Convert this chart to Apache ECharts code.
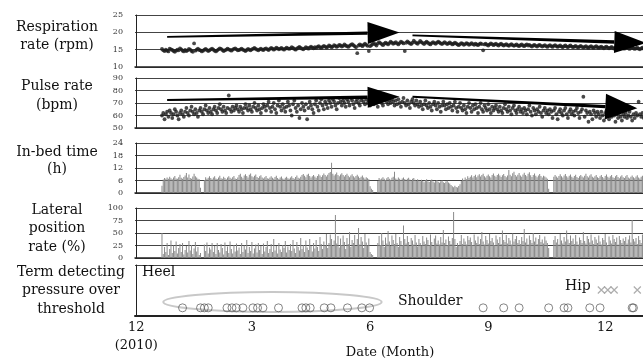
<!DOCTYPE html>
<html><head><meta charset="utf-8">
<script src="https://cdn.jsdelivr.net/npm/echarts@6/dist/echarts.min.js"></script>
<style>html,body{margin:0;padding:0;background:#fff}#c{width:643px;height:363px}</style>
</head><body><div id="c"></div>
<script>
// x values are days counted from 1 Dec 2010; daily readings start on day 20 (21 Dec 2010)
const firstDay = 20;
const respiration = [
15.2,14.8,14.6,15.0,14.7,14.5,15.3,15.1,14.9,14.6,14.4,14.7,15.0,14.8,15.4,15.1,14.7,14.5,14.9,14.6,
14.8,15.2,15.0,14.6,14.4,16.8,14.7,15.0,15.3,14.9,14.8,14.5,14.7,15.0,15.2,14.9,14.6,14.8,15.1,15.3,
15.0,14.7,14.5,14.8,15.1,15.4,15.2,14.9,14.6,14.8,15.0,15.3,15.1,14.9,14.7,15.0,15.2,15.4,15.1,14.8,
14.9,15.1,15.3,15.0,14.8,14.6,14.9,15.2,15.0,14.8,15.1,15.3,15.5,15.2,15.0,14.8,15.1,15.3,15.0,14.9,
15.2,15.4,15.1,14.9,15.2,15.5,15.3,15.0,15.2,15.6,15.4,15.1,15.3,15.5,15.2,15.0,15.3,15.6,15.4,15.2,
15.4,15.7,15.5,15.2,15.0,15.3,15.6,15.8,15.5,15.3,15.1,15.4,15.7,15.5,15.3,15.6,15.9,15.6,15.4,15.7,
15.5,15.8,16.0,15.7,15.5,15.8,16.1,15.9,15.6,15.8,16.2,16.0,15.7,15.9,16.3,16.1,15.8,16.0,16.4,16.2,
15.9,16.1,16.5,16.2,16.0,15.8,16.1,16.4,16.6,16.3,16.0,15.7,14.0,16.2,16.5,16.3,16.0,16.4,16.7,16.4,
16.1,14.6,16.0,16.3,16.6,16.9,16.5,16.2,16.8,17.2,16.9,16.6,16.3,16.7,17.0,16.8,16.5,16.9,17.3,17.0,
16.7,16.9,17.2,16.8,16.5,16.9,17.3,17.1,16.8,14.6,17.0,17.4,17.1,16.8,16.6,17.0,17.6,17.2,16.9,16.7,
17.1,17.5,17.2,16.9,16.6,17.0,17.3,17.0,16.7,16.5,16.9,17.2,16.9,16.7,17.0,17.3,17.1,16.8,16.6,16.9,
17.2,16.9,16.6,16.8,17.1,16.8,16.5,16.7,17.0,16.8,16.5,16.3,16.6,16.9,16.7,16.4,16.6,16.9,16.7,16.4,
16.6,16.9,16.6,16.4,16.7,16.5,16.3,16.6,16.8,16.6,14.8,16.5,16.7,16.4,16.2,16.5,16.8,16.6,16.3,16.5,
16.7,16.4,16.2,16.5,16.7,16.4,16.2,16.4,16.6,16.3,16.1,16.4,16.6,16.3,16.1,16.3,16.5,16.2,16.0,16.3,
16.5,16.2,16.0,16.3,16.5,16.2,16.4,16.1,15.9,16.2,16.4,16.1,15.9,16.2,16.4,16.1,15.9,16.1,16.3,16.0,
15.8,16.1,16.3,16.0,15.8,16.1,16.3,16.0,15.8,16.0,16.2,15.9,15.7,16.0,16.2,15.9,15.7,16.0,16.2,15.9,
15.7,15.9,16.1,15.8,15.6,15.9,16.1,15.8,15.6,15.8,16.0,15.7,15.5,15.8,16.0,15.7,15.5,15.8,16.0,15.7,
15.5,15.7,15.9,15.6,15.4,15.7,15.9,15.6,15.4,15.6,15.8,15.5,15.3,15.6,15.8,15.5,15.3,15.5,15.7,15.4,
15.3,15.5,15.7,15.4,15.2,15.5,15.7,15.4,15.2,15.4,15.6,15.3,15.1,15.4,15.6,15.3,15.1,15.3,15.5,15.2
];
const pulse = [
60,62,57,61,63,59,64,62,58,61,65,63,60,57,62,64,61,59,63,66,
62,60,64,67,63,61,65,62,59,64,66,63,61,65,68,64,62,66,63,61,
65,67,64,62,66,69,65,63,67,64,62,66,76,65,63,67,64,66,68,65,
63,67,65,62,66,69,66,64,68,65,63,67,70,66,64,68,65,62,66,69,
67,64,68,71,66,63,67,70,65,62,68,72,67,64,69,66,63,67,71,68,
64,60,69,72,66,63,68,58,65,70,67,64,69,57,66,71,68,65,62,69,
72,67,64,70,73,68,65,71,69,66,72,70,67,73,71,68,65,70,74,71,
68,72,70,67,73,71,68,74,72,69,66,71,73,70,68,72,74,71,69,73,
70,72,68,71,74,69,72,70,67,71,73,70,68,72,75,71,69,72,70,73,
71,68,72,69,73,70,67,71,74,70,68,72,69,66,71,73,70,68,72,69,
67,71,68,65,69,72,68,66,70,67,64,69,71,68,65,70,67,63,68,71,
68,65,69,66,70,67,64,68,71,66,63,67,70,66,64,68,65,62,67,70,
66,63,68,65,69,66,62,67,70,65,63,68,66,64,69,65,62,67,64,66,
68,65,63,67,64,62,66,69,65,63,67,64,61,66,68,64,62,65,67,63,
65,62,66,64,61,65,68,63,60,66,64,61,65,63,67,62,59,64,66,62,
64,61,65,63,58,64,66,61,57,63,65,62,60,64,66,61,58,63,65,61,
63,60,64,66,62,58,63,65,75,59,64,62,55,63,61,57,64,62,59,63,
61,58,63,60,56,62,64,60,57,62,59,63,60,55,61,58,62,59,56,61,
59,62,58,60,63,59,56,61,58,62,60,71,61,59,62,58,60,63,59,61
];
const inBedHours = [
3.5,6.5,7.2,6.8,7.5,6.9,7.8,7.1,6.6,7.4,8.2,7.0,6.8,7.6,8.8,7.3,6.9,7.7,8.4,9.6,
7.5,8.9,7.2,6.8,7.9,9.3,8.1,7.4,6.9,6.6,2.5,0,0,6.2,7.6,6.8,7.3,8.0,7.2,6.6,
7.4,8.1,7.0,6.7,7.5,8.3,7.1,6.9,7.8,7.2,6.6,7.4,8.0,7.3,6.8,7.6,8.2,7.0,6.7,7.5,
8.6,9.2,7.8,7.1,8.4,9.0,8.2,7.5,8.8,9.4,8.1,7.6,8.3,8.9,7.7,7.2,8.0,8.5,7.4,7.0,
7.6,8.2,7.1,6.8,7.5,8.0,7.3,6.9,7.7,8.3,7.2,6.7,7.4,7.9,7.0,6.6,7.3,7.8,7.1,6.8,
7.5,8.1,7.2,6.9,7.7,8.4,7.3,7.0,7.8,8.6,9.1,8.3,7.6,8.8,9.3,8.2,7.5,8.0,8.7,7.9,
7.3,8.2,9.0,8.4,7.7,8.5,9.4,8.6,7.9,8.8,9.6,10.1,14.5,9.2,8.4,9.0,9.8,8.7,8.0,8.9,
9.5,8.6,7.9,8.7,9.2,8.3,7.6,8.4,9.0,8.1,7.4,8.2,8.8,7.9,7.2,7.8,8.4,7.5,6.9,7.6,
7.1,6.6,3.2,2.0,1.5,0,0,0,5.8,7.2,6.5,7.0,7.6,6.8,6.3,7.1,7.7,6.9,6.4,7.3,
7.8,10.2,7.0,6.5,7.4,6.8,6.2,7.0,7.5,6.7,6.1,6.9,7.3,6.5,6.0,6.8,7.2,6.4,5.9,6.6,
6.0,5.6,6.4,5.8,5.2,6.1,6.6,5.7,5.3,6.0,6.5,5.5,5.0,5.8,6.2,5.4,4.9,5.6,6.0,5.2,
4.8,5.5,5.9,5.1,4.6,3.8,3.2,2.8,3.5,2.9,2.6,3.4,4.2,5.8,7.0,6.2,7.4,6.6,8.0,7.2,
7.8,8.5,7.4,8.2,8.8,7.6,8.4,9.0,7.9,8.6,9.2,8.1,7.5,8.3,8.9,8.0,7.4,8.7,9.4,8.3,
7.8,8.6,9.3,8.4,7.7,8.5,9.1,8.2,7.6,8.4,11.0,8.8,8.0,9.5,10.2,8.7,7.9,8.8,9.6,8.4,
7.8,8.9,9.7,8.6,8.0,9.2,10.0,8.5,7.7,8.6,9.4,8.3,7.6,8.4,9.1,8.2,7.5,8.3,7.9,7.4,
6.8,2.0,0,0,0,7.8,8.6,7.9,7.3,8.2,9.0,8.1,7.5,8.4,9.1,8.0,7.4,8.3,8.9,7.8,
7.3,8.2,8.8,7.7,7.2,8.1,8.7,7.9,7.4,8.3,9.2,8.0,7.5,8.4,9.0,7.8,7.3,8.1,8.7,7.6,
7.2,8.0,8.6,7.7,7.1,8.2,8.9,7.8,7.3,8.1,8.7,7.6,7.2,8.0,8.6,7.7,7.1,7.9,8.5,7.6,
7.2,8.0,8.6,7.5,7.0,7.8,8.4,7.6,7.1,7.9,8.5,7.4,7.0,7.8,8.3,7.5,7.0,7.7,8.2,7.4
];
const lateralRate = [
50,8,22,12,30,6,18,35,10,25,14,33,9,20,28,12,30,7,16,24,
11,34,15,26,8,19,32,13,22,6,10,0,0,27,14,31,9,21,17,30,
12,24,8,30,16,11,28,20,7,31,14,23,10,33,18,9,26,13,29,15,
21,8,30,12,25,17,36,10,22,14,32,9,19,27,11,30,16,24,8,29,
13,22,34,10,18,28,12,38,15,24,9,30,17,12,26,20,34,11,23,16,
28,14,36,19,10,32,22,15,40,18,26,12,35,21,16,38,24,13,30,19,
36,22,14,42,28,18,33,25,48,20,30,47,38,24,35,86,29,44,21,39,
26,45,32,18,40,28,52,22,36,30,46,24,38,60,27,42,33,20,48,31,
25,39,12,8,6,0,0,0,30,44,26,50,35,22,41,29,54,33,24,45,
36,28,48,30,22,42,34,26,65,38,29,44,32,24,40,35,27,46,31,23,
38,30,25,44,33,28,41,36,26,47,32,24,39,45,29,35,27,42,31,56,
30,37,26,43,34,28,40,92,38,22,30,25,34,46,28,39,33,27,44,36,
41,32,26,47,35,30,43,28,38,52,33,27,44,36,29,48,34,40,31,26,
45,37,30,42,28,55,36,32,46,29,40,35,27,49,33,38,44,30,36,28,
42,34,58,31,39,27,45,36,30,50,33,41,28,38,46,32,37,29,43,35,
30,20,0,0,0,36,44,31,38,27,48,35,29,42,33,55,37,30,45,34,
39,28,46,33,27,41,36,30,52,34,29,44,38,31,47,35,28,42,37,30,
45,33,27,40,36,48,31,26,43,35,29,46,38,32,41,27,44,36,30,39,
34,42,29,37,45,31,76,38,33,40,28,44,36,30,47,35,39,29,43,34
];
// days on which pressure over threshold was detected
const heelDays = [36,50,53,56,70.6,74.5,77.8,83,90.8,94.4,98.6,110.7,129,132,135.4,146.3,151.5,164.4,175.6,181.6];
const shoulderDays = [270,286,298,321,333,336,353,361,386,387];
const hipDays = [362,367,372,390];
const detectLevel = {circle: 0.16, cross: 0.51};
const monthTicks = [0, 90, 182, 274, 365];
const monthLabels = ['12\n(2010)', '3', '6', '9', '12'];
const panelTitles = [
  ['Respiration', 'rate (rpm)'],
  ['Pulse rate', '(bpm)'],
  ['In-bed time', '(h)'],
  ['Lateral', 'position', 'rate (%)'],
  ['Term detecting', 'pressure over', 'threshold']
];
const yRanges = [[10,25,5],[50,90,10],[0,24,6],[0,100,25],[0,1,1]];
// arrows: [panel, startDay, startVal, tipDay, tipVal, headLen, headWidth]
const trendArrows = [
  [0, 24, 18.7, 205, 19.95, 32, 22],
  [0, 215, 19.1, 397, 16.9, 32, 22],
  [1, 24, 72.4, 205, 75.0, 32, 21],
  [1, 215, 75.0, 390, 65.8, 32, 26]
];
const heelEllipse = [21, 191, 0.08, 0.47];

const FONT = '"DejaVu Serif", "Liberation Serif", serif';
const tops = [15, 78, 143, 208, 265];
const heights = [52, 50, 50, 50, 51];
const xMin = -1, xMax = 410;

const chart = echarts.init(document.getElementById('c'));
const grids = tops.map((t, i) => ({
  left: 135, width: 528, top: t, height: heights[i],
  outerBoundsMode: 'none', containLabel: false, show: false
}));
const xAxes = tops.map((t, i) => ({
  type: 'value', gridIndex: i, min: xMin, max: xMax,
  axisLine: {show: true, lineStyle: {color: '#222', width: i === 4 ? 2 : 1.5}},
  axisTick: {show: false}, splitLine: {show: false},
  axisLabel: i === 4 ? {
    show: true, customValues: monthTicks, fontFamily: FONT, fontSize: 13, color: '#111',
    lineHeight: 18, margin: 3,
    formatter: v => { const k = monthTicks.indexOf(v); return k >= 0 ? monthLabels[k] : ''; }
  } : {show: false}
}));
const yAxes = yRanges.map((r, i) => ({
  type: 'value', gridIndex: i, min: r[0], max: r[1], interval: r[2],
  axisLine: {show: true, lineStyle: {color: '#222', width: 1}},
  axisTick: {show: false},
  splitLine: {show: true, lineStyle: {color: '#444', width: 1}},
  axisLabel: {show: i !== 4, fontFamily: FONT, fontSize: 8, color: '#333', margin: 12}
}));
const toPts = arr => arr.map((v, k) => [firstDay + k, v]);
const toBars = arr => arr.map((v, k) => [firstDay + k, v > 0 ? v : null]);
const series = [
  {type: 'scatter', xAxisIndex: 0, yAxisIndex: 0, data: toPts(respiration), symbolSize: 3.8,
   itemStyle: {color: '#1c1c1c'}, silent: true, z: 3},
  {type: 'scatter', xAxisIndex: 1, yAxisIndex: 1, data: toPts(pulse), symbolSize: 3.8,
   itemStyle: {color: '#1c1c1c'}, silent: true, z: 3},
  {type: 'bar', xAxisIndex: 2, yAxisIndex: 2, data: toBars(inBedHours), barWidth: 1,
   itemStyle: {color: '#8a8a8a'}, silent: true},
  {type: 'bar', xAxisIndex: 3, yAxisIndex: 3, data: toBars(lateralRate), barWidth: 1,
   itemStyle: {color: '#8a8a8a'}, silent: true},
  {type: 'scatter', xAxisIndex: 4, yAxisIndex: 4, data: heelDays.concat(shoulderDays).map(d => [d, detectLevel.circle]),
   symbol: 'circle', symbolSize: 8, itemStyle: {color: 'rgba(255,255,255,0)', borderColor: '#555', borderWidth: 0.9}, silent: true, z: 4},
  {type: 'scatter', xAxisIndex: 4, yAxisIndex: 4, data: hipDays.map(d => [d, detectLevel.cross]),
   symbol: 'path://M0,0L10,10M10,0L0,10', symbolSize: 7, itemStyle: {color: 'none', borderColor: '#999', borderWidth: 1.2}, silent: true, z: 4}
];
chart.setOption({animation: false, grid: grids, xAxis: xAxes, yAxis: yAxes, series: series});

const els = [];
panelTitles.forEach((lines, i) => {
  const cx = i === 4 ? 71 : 57;
  const centers = [[27, 45.5], [86, 105], [152, 169], [210.5, 228.5, 247], [272, 290.5, 309.5]][i];
  lines.forEach((t, k) => els.push({type: 'text', x: cx, y: centers[k], silent: true,
    style: {text: t, font: '14px ' + FONT, fill: '#111', textAlign: 'center', textVerticalAlign: 'middle'}}));
});
els.push({type: 'text', x: 390, y: 353, style: {text: 'Date (Month)', font: '13px ' + FONT, fill: '#111', textAlign: 'center', textVerticalAlign: 'middle'}});
els.push({type: 'text', x: 142, y: 272, style: {text: 'Heel', font: '14px ' + FONT, fill: '#111', textVerticalAlign: 'middle'}});
els.push({type: 'text', x: 398, y: 301, style: {text: 'Shoulder', font: '14px ' + FONT, fill: '#111', textVerticalAlign: 'middle'}});
els.push({type: 'text', x: 565, y: 286, style: {text: 'Hip', font: '14px ' + FONT, fill: '#111', textVerticalAlign: 'middle'}});

trendArrows.forEach(a => {
  const s = chart.convertToPixel({gridIndex: a[0]}, [a[1], a[2]]);
  const t = chart.convertToPixel({gridIndex: a[0]}, [a[3], a[4]]);
  const dx = t[0] - s[0], dy = t[1] - s[1], L = Math.hypot(dx, dy);
  const ux = dx / L, uy = dy / L, px = -uy, py = ux;
  const b = [t[0] - ux * a[5], t[1] - uy * a[5]];
  const w0 = 0.9, w1 = 1.7;
  els.push({type: 'polygon', z: 10, silent: true, shape: {points: [
    [s[0] + px * w0, s[1] + py * w0], [b[0] + px * w1, b[1] + py * w1],
    [b[0] - px * w1, b[1] - py * w1], [s[0] - px * w0, s[1] - py * w0]]}, style: {fill: '#000'}});
  els.push({type: 'polygon', z: 10, silent: true, shape: {points: [
    [t[0], t[1]], [b[0] + px * a[6] / 2, b[1] + py * a[6] / 2], [b[0] - px * a[6] / 2, b[1] - py * a[6] / 2]]},
    style: {fill: '#000'}});
});
const e1 = chart.convertToPixel({gridIndex: 4}, [heelEllipse[0], heelEllipse[3]]);
const e2 = chart.convertToPixel({gridIndex: 4}, [heelEllipse[1], heelEllipse[2]]);
els.push({type: 'ellipse', z: 2, silent: true, shape: {cx: (e1[0] + e2[0]) / 2, cy: (e1[1] + e2[1]) / 2,
  rx: Math.abs(e2[0] - e1[0]) / 2, ry: Math.abs(e2[1] - e1[1]) / 2}, style: {fill: 'none', stroke: '#c8c8c8', lineWidth: 2}});
chart.setOption({graphic: {elements: els}});
</script>
</body></html>
